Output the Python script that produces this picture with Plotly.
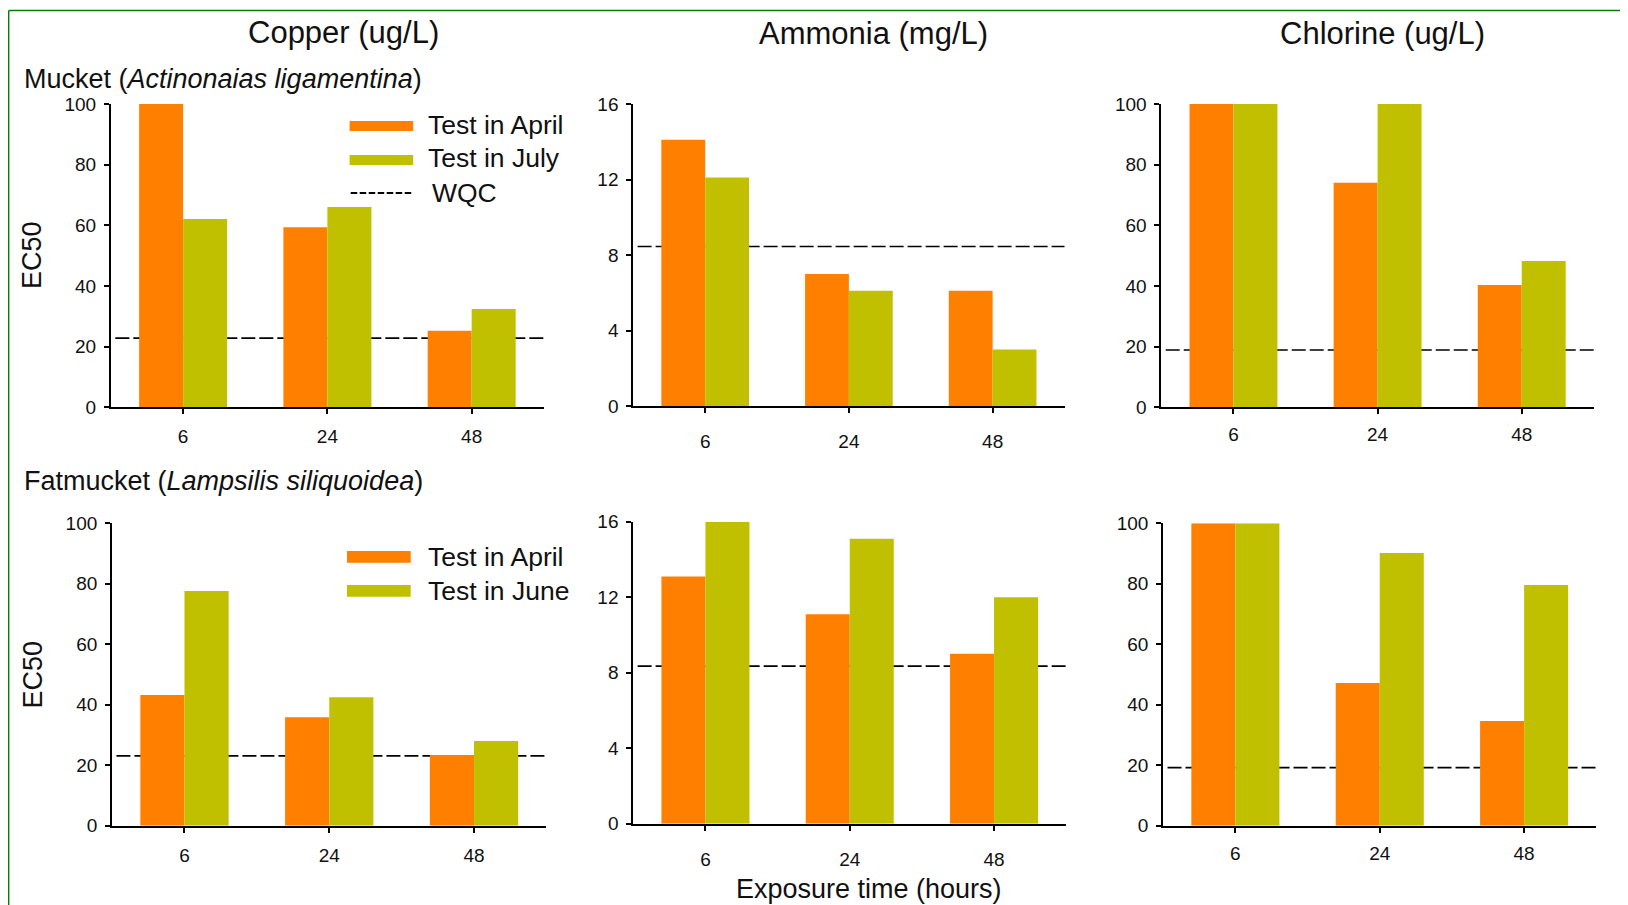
import plotly.graph_objects as go

# ---------------- data ----------------
categories = ["6", "24", "48"]
chemicals = ["Copper (ug/L)", "Ammonia (mg/L)", "Chlorine (ug/L)"]

copper_mucket_april = [100, 59.4, 25.2]
copper_mucket_july = [62.1, 66.0, 32.4]
ammonia_mucket_april = [14.1, 7.0, 6.1]
ammonia_mucket_july = [12.1, 6.1, 3.0]
chlorine_mucket_april = [100, 74.0, 40.3]
chlorine_mucket_july = [100, 100, 48.2]

copper_fat_april = [43.2, 35.9, 23.4]
copper_fat_june = [77.6, 42.5, 28.0]
ammonia_fat_april = [13.1, 11.1, 9.0]
ammonia_fat_june = [16.0, 15.1, 12.0]
chlorine_fat_april = [100, 47.2, 34.6]
chlorine_fat_june = [100, 90.2, 79.6]

wqc_mucket = [22.8, 8.45, 18.9]
wqc_fat = [23.1, 8.35, 19.2]

y_max = [100, 16, 100]
y_dtick = [20, 4, 20]

# ---------------- styling ----------------
W, H = 1628, 905
OFF = 8  # the page body has an 8px margin
ORANGE = "#FF8000"
OLIVE = "#C0C000"
FONT = "Liberation Sans, Arial, sans-serif"
TXT = "#111111"


def px(x):
    return (x - OFF) / W


def py(y):
    return 1 - (y - OFF) / H


# plot areas in pixels of the final page: (left, right, top, bottom)
boxes = [
    (111.0, 543.8, 104, 407.3),
    (633.3, 1064.5, 104, 406),
    (1161.4, 1593.8, 104, 407.3),
    (112.1, 546.4, 523.3, 825.7),
    (633.3, 1066.2, 521.7, 823.7),
    (1163.2, 1596.3, 523.3, 825.7),
]
xlabel_standoff = [6, 12, 4, 6, 12, 4]

panels = [
    (copper_mucket_april, copper_mucket_july, "Test in July", wqc_mucket[0], 0),
    (ammonia_mucket_april, ammonia_mucket_july, "Test in July", wqc_mucket[1], 1),
    (chlorine_mucket_april, chlorine_mucket_july, "Test in July", wqc_mucket[2], 2),
    (copper_fat_april, copper_fat_june, "Test in June", wqc_fat[0], 0),
    (ammonia_fat_april, ammonia_fat_june, "Test in June", wqc_fat[1], 1),
    (chlorine_fat_april, chlorine_fat_june, "Test in June", wqc_fat[2], 2),
]

fig = go.Figure()
layout = dict(
    template="none",
    width=W, height=H, autosize=False,
    margin=dict(l=0, r=0, t=0, b=0, pad=0),
    paper_bgcolor="white", plot_bgcolor="white",
    barmode="group", bargap=0.39, bargroupgap=0,
    showlegend=False,
    font=dict(family=FONT, color=TXT),
)
shapes = []
annotations = []

for i, (april, second, second_name, wqc, chem) in enumerate(panels):
    n = i + 1
    xa = "x" if n == 1 else f"x{n}"
    ya = "y" if n == 1 else f"y{n}"
    l, r, t, b = boxes[i]
    fig.add_trace(go.Bar(x=categories, y=april, name="Test in April",
                         marker=dict(color=ORANGE, line=dict(width=0)),
                         xaxis=xa, yaxis=ya, offsetgroup="a"))
    fig.add_trace(go.Bar(x=categories, y=second, name=second_name,
                         marker=dict(color=OLIVE, line=dict(width=0)),
                         xaxis=xa, yaxis=ya, offsetgroup="b"))
    layout["xaxis" if n == 1 else f"xaxis{n}"] = dict(
        domain=[px(l), px(r)], anchor=ya, type="category",
        categoryorder="array", categoryarray=categories,
        range=[-0.5, 2.5], automargin=False,
        showline=True, linecolor="black", linewidth=2,
        ticks="outside", ticklen=5, tickwidth=2, tickcolor="black",
        ticklabelstandoff=xlabel_standoff[i],
        tickfont=dict(size=19, family=FONT, color=TXT),
        showgrid=False, zeroline=False, fixedrange=True,
    )
    layout["yaxis" if n == 1 else f"yaxis{n}"] = dict(
        domain=[py(b), py(t)], anchor=xa, automargin=False,
        range=[0, y_max[chem]], dtick=y_dtick[chem], tick0=0,
        showline=True, linecolor="black", linewidth=2,
        ticks="outside", ticklen=5, tickwidth=2, tickcolor="black",
        ticklabelstandoff=4,
        tickfont=dict(size=19, family=FONT, color=TXT),
        showgrid=False, zeroline=False, fixedrange=True,
    )
    # WQC reference line (behind bars)
    shapes.append(dict(type="line", xref=f"{xa} domain", yref=ya,
                       x0=0.01, x1=1, y0=wqc, y1=wqc, layer="below",
                       line=dict(color="black", width=1.6, dash="14px,4px")))

# chemical titles
title_pos = [(343.9, 32), (873.7, 33), (1382.9, 33)]
for name, (cx, cy) in zip(chemicals, title_pos):
    annotations.append(dict(text=name, x=px(cx), y=py(cy), xref="paper", yref="paper",
                            xanchor="center", yanchor="middle", showarrow=False,
                            font=dict(size=31, family=FONT, color=TXT)))

# species labels
annotations.append(dict(text="Mucket (<i>Actinonaias ligamentina</i>)", x=px(21.5), y=py(78.5),
                        xref="paper", yref="paper", xanchor="left", yanchor="middle",
                        showarrow=False, font=dict(size=27, family=FONT, color=TXT)))
annotations.append(dict(text="Fatmucket (<i>Lampsilis siliquoidea</i>)", x=px(21.5), y=py(481.5),
                        xref="paper", yref="paper", xanchor="left", yanchor="middle",
                        showarrow=False, font=dict(size=27, family=FONT, color=TXT)))

# EC50 labels
for cx, cy in ((31.4, 254.5), (32.6, 675)):
    annotations.append(dict(text="EC50", x=px(cx), y=py(cy), xref="paper", yref="paper",
                            xanchor="center", yanchor="middle", textangle=-90,
                            showarrow=False, font=dict(size=27, family=FONT, color=TXT)))

# x-axis title
annotations.append(dict(text="Exposure time (hours)", x=px(869), y=py(889),
                        xref="paper", yref="paper", xanchor="center", yanchor="middle",
                        showarrow=False, font=dict(size=27, family=FONT, color=TXT)))

# hand-drawn legends (wide swatches as in the original)
legend_items = [
    ("rect", ORANGE, "Test in April", 349.6, 413.2, 121, 131, 426, 124.5),
    ("rect", OLIVE, "Test in July", 349.6, 413.2, 155, 165, 426, 158),
    ("dash", "black", "WQC", 350.7, 412.5, 193, 193, 429.5, 192.5),
    ("rect", ORANGE, "Test in April", 347, 410.7, 551, 562.7, 425.5, 556.7),
    ("rect", OLIVE, "Test in June", 347, 410.7, 585, 596.7, 425.5, 590.5),
]
for kind, col, label, x0, x1, y0, y1, tx, ty in legend_items:
    if kind == "rect":
        shapes.append(dict(type="rect", xref="paper", yref="paper",
                           x0=px(x0), x1=px(x1), y0=py(y1), y1=py(y0),
                           fillcolor=col, line=dict(width=0)))
    else:
        shapes.append(dict(type="line", xref="paper", yref="paper",
                           x0=px(x0), x1=px(x1), y0=py(y0), y1=py(y1),
                           line=dict(color=col, width=2, dash="6.5px,2.5px")))
    annotations.append(dict(text=label, x=px(tx), y=py(ty), xref="paper", yref="paper",
                            xanchor="left", yanchor="middle", showarrow=False,
                            font=dict(size=26.5, family=FONT, color=TXT)))

# green frame (top and left edges)
shapes.append(dict(type="line", xref="paper", yref="paper", x0=px(8.7), x1=1.0,
                   y0=py(10.5), y1=py(10.5), line=dict(color="#008000", width=1.4)))
shapes.append(dict(type="line", xref="paper", yref="paper", x0=px(8.7), x1=px(8.7),
                   y0=py(10.5), y1=0.0, line=dict(color="#008000", width=1.4)))

layout["shapes"] = shapes
layout["annotations"] = annotations
fig.update_layout(**layout)

fig.write_html("out.html", config={"displayModeBar": False})
